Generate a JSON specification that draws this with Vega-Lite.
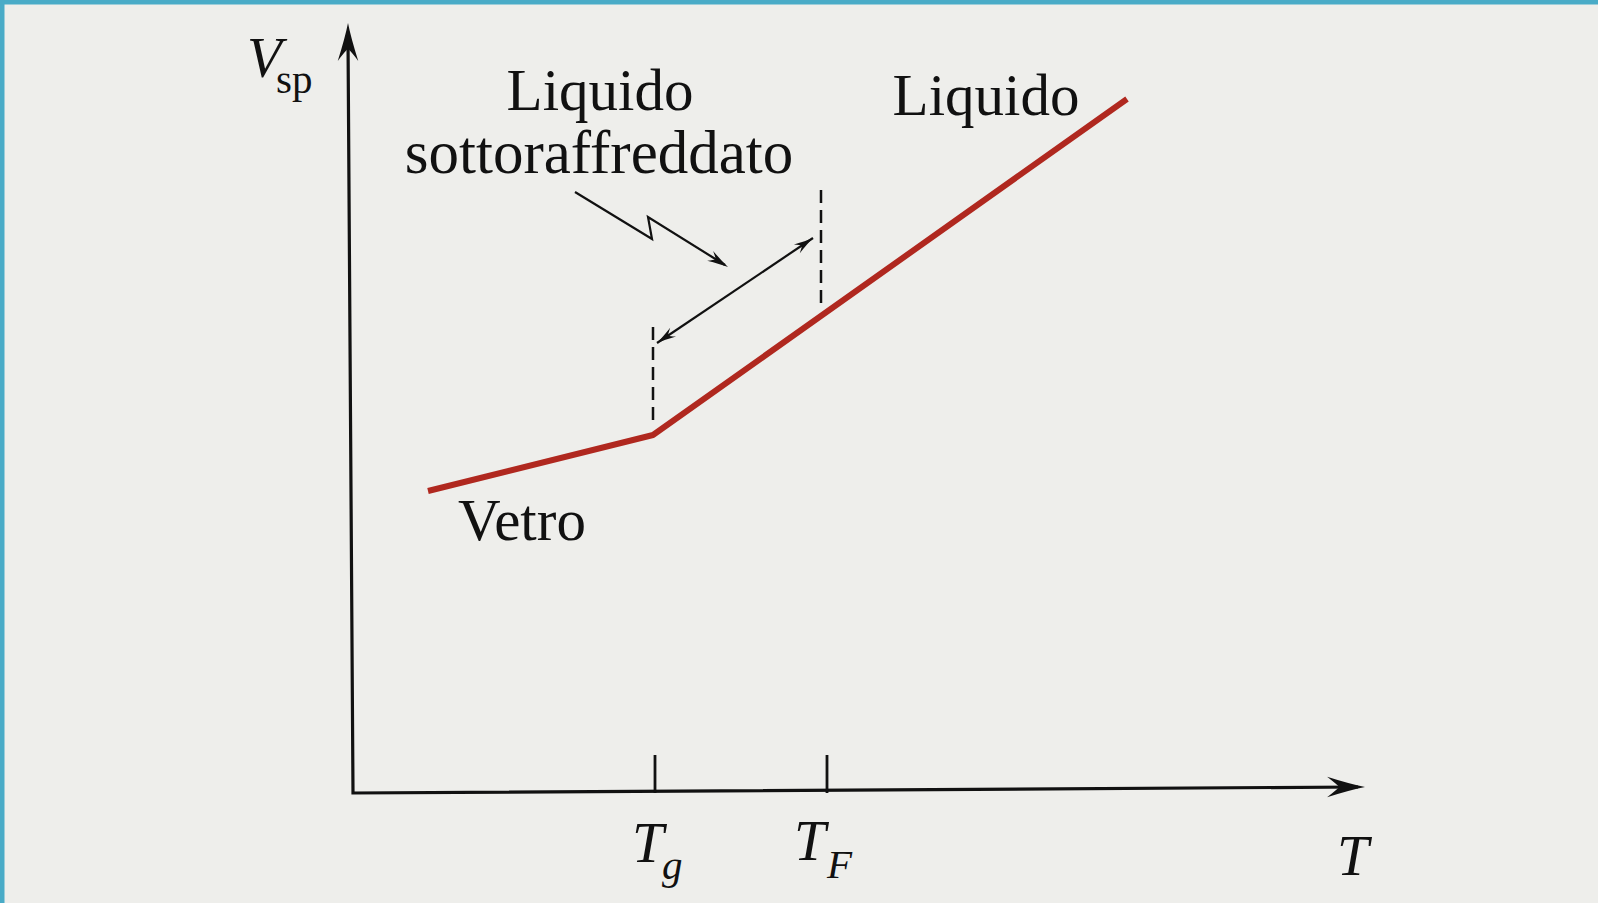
{
  "$schema": "https://vega.github.io/schema/vega-lite/v6.json",
  "width": 1598,
  "height": 903,
  "autosize": {"type": "none"},
  "padding": 0,
  "background": "#eeeeeb",
  "config": {"view": {"stroke": null, "fill": "#eeeeeb"}},
  "datasets": {
    "frame": [
      {"temp": -35.3, "vol": 79.3, "temp2": 124.5, "vol2": 79.3},
      {"temp": -35.3, "vol": 79.3, "temp2": -35.3, "vol2": -11}
    ],
    "axes": [
      {"o": 1, "temp": -0.5, "vol": 75.5},
      {"o": 2, "temp": 0, "vol": 0},
      {"o": 3, "temp": 100.5, "vol": 0.6}
    ],
    "heads": [
      {"dir": "up", "temp": -0.5, "vol": 77.0},
      {"dir": "right", "temp": 101.2, "vol": 0.6},
      {"dir": "lowerleft", "temp": 30.4, "vol": 45.0},
      {"dir": "upperright", "temp": 46.0, "vol": 55.5},
      {"dir": "zig", "temp": 37.5, "vol": 52.6}
    ],
    "curve": [
      {"o": 1, "temp": 7.5, "vol": 30.2},
      {"o": 2, "temp": 30.0, "vol": 35.8},
      {"o": 3, "temp": 77.4, "vol": 69.4}
    ],
    "dashes": [
      {"temp": 30.0, "vol": 37.3, "vol2": 47.1},
      {"temp": 46.8, "vol": 49.0, "vol2": 60.3}
    ],
    "ticks": [
      {"temp": 30.2, "vol": 0, "vol2": 3.8},
      {"temp": 47.4, "vol": 0, "vol2": 3.8}
    ],
    "pointers": [
      {"id": "range", "o": 1, "temp": 30.4, "vol": 45.0},
      {"id": "range", "o": 2, "temp": 46.0, "vol": 55.5},
      {"id": "zig", "o": 1, "temp": 22.2, "vol": 60.1},
      {"id": "zig", "o": 2, "temp": 29.9, "vol": 55.4},
      {"id": "zig", "o": 3, "temp": 29.5, "vol": 57.6},
      {"id": "zig", "o": 4, "temp": 37.2, "vol": 52.8}
    ],
    "labels": [
      {"kind": "word", "temp": 24.7, "vol": 68.3, "text": "Liquido"},
      {"kind": "wide", "temp": 24.6, "vol": 62.0, "text": "sottoraffreddato"},
      {"kind": "word", "temp": 63.3, "vol": 67.8, "text": "Liquido"},
      {"kind": "word", "temp": 16.9, "vol": 25.3, "text": "Vetro"},
      {"kind": "sym", "temp": -10.6, "vol": 71.6, "text": "V"},
      {"kind": "sym", "temp": 27.9, "vol": -6.9, "text": "T"},
      {"kind": "sym", "temp": 44.1, "vol": -6.7, "text": "T"},
      {"kind": "sym", "temp": 98.4, "vol": -8.2, "text": "T"},
      {"kind": "subroman", "temp": -7.7, "vol": 70.0, "text": "sp"},
      {"kind": "sub", "temp": 30.9, "vol": -8.6, "text": "g"},
      {"kind": "sub", "temp": 47.4, "vol": -8.5, "text": "F"}
    ]
  },
  "layer": [
    {
      "data": {"name": "frame"},
      "mark": {"type": "rule", "color": "#49abc7", "strokeWidth": 9},
      "encoding": {
        "x": {"field": "temp", "type": "quantitative", "scale": {"domain": [-35.3, 124.5], "nice": false, "zero": false}, "axis": null},
        "y": {"field": "vol", "type": "quantitative", "scale": {"domain": [-11, 79.3], "nice": false, "zero": false}, "axis": null},
        "x2": {"field": "temp2"},
        "y2": {"field": "vol2"}
      }
    },
    {
      "data": {"name": "curve"},
      "mark": {"type": "line", "color": "#b0281f", "strokeWidth": 6, "strokeJoin": "round", "strokeCap": "butt"},
      "encoding": {
        "x": {"field": "temp", "type": "quantitative", "axis": null},
        "y": {"field": "vol", "type": "quantitative", "axis": null},
        "order": {"field": "o"}
      }
    },
    {
      "data": {"name": "axes"},
      "mark": {"type": "line", "color": "#111111", "strokeWidth": 3.2, "strokeJoin": "miter"},
      "encoding": {
        "x": {"field": "temp", "type": "quantitative", "axis": null},
        "y": {"field": "vol", "type": "quantitative", "axis": null},
        "order": {"field": "o"}
      }
    },
    {
      "data": {"name": "dashes"},
      "mark": {"type": "rule", "color": "#111111", "strokeWidth": 2.5, "strokeDash": [13, 7]},
      "encoding": {
        "x": {"field": "temp", "type": "quantitative", "axis": null},
        "y": {"field": "vol", "type": "quantitative", "axis": null},
        "y2": {"field": "vol2"}
      }
    },
    {
      "data": {"name": "ticks"},
      "mark": {"type": "rule", "color": "#111111", "strokeWidth": 2.8},
      "encoding": {
        "x": {"field": "temp", "type": "quantitative", "axis": null},
        "y": {"field": "vol", "type": "quantitative", "axis": null},
        "y2": {"field": "vol2"}
      }
    },
    {
      "data": {"name": "pointers"},
      "mark": {"type": "line", "color": "#111111", "strokeWidth": 2.2, "strokeJoin": "miter"},
      "encoding": {
        "x": {"field": "temp", "type": "quantitative", "axis": null},
        "y": {"field": "vol", "type": "quantitative", "axis": null},
        "detail": {"field": "id"},
        "order": {"field": "o"}
      }
    },
    {
      "data": {"name": "heads"},
      "transform": [{"filter": "datum.dir === 'up'"}],
      "mark": {"type": "point", "shape": "M0,0 Q-1.5,-0.3 -3.7,-1 Q-2.8,-0.3 -2.5,0 Q-2.8,0.3 -3.7,1 Q-1.5,0.3 0,0 Z", "size": 420, "angle": -90, "filled": true, "color": "#111111", "opacity": 1},
      "encoding": {
        "x": {"field": "temp", "type": "quantitative", "axis": null},
        "y": {"field": "vol", "type": "quantitative", "axis": null}
      }
    },
    {
      "data": {"name": "heads"},
      "transform": [{"filter": "datum.dir === 'right'"}],
      "mark": {"type": "point", "shape": "M0,0 Q-1.5,-0.3 -3.7,-1 Q-2.8,-0.3 -2.5,0 Q-2.8,0.3 -3.7,1 Q-1.5,0.3 0,0 Z", "size": 420, "angle": 0, "filled": true, "color": "#111111", "opacity": 1},
      "encoding": {
        "x": {"field": "temp", "type": "quantitative", "axis": null},
        "y": {"field": "vol", "type": "quantitative", "axis": null}
      }
    },
    {
      "data": {"name": "heads"},
      "transform": [{"filter": "datum.dir === 'lowerleft'"}],
      "mark": {"type": "point", "shape": "M0,0 Q-1.5,-0.3 -3.7,-1 Q-2.8,-0.3 -2.5,0 Q-2.8,0.3 -3.7,1 Q-1.5,0.3 0,0 Z", "size": 110, "angle": 146.1, "filled": true, "color": "#111111", "opacity": 1},
      "encoding": {
        "x": {"field": "temp", "type": "quantitative", "axis": null},
        "y": {"field": "vol", "type": "quantitative", "axis": null}
      }
    },
    {
      "data": {"name": "heads"},
      "transform": [{"filter": "datum.dir === 'upperright'"}],
      "mark": {"type": "point", "shape": "M0,0 Q-1.5,-0.3 -3.7,-1 Q-2.8,-0.3 -2.5,0 Q-2.8,0.3 -3.7,1 Q-1.5,0.3 0,0 Z", "size": 110, "angle": -33.9, "filled": true, "color": "#111111", "opacity": 1},
      "encoding": {
        "x": {"field": "temp", "type": "quantitative", "axis": null},
        "y": {"field": "vol", "type": "quantitative", "axis": null}
      }
    },
    {
      "data": {"name": "heads"},
      "transform": [{"filter": "datum.dir === 'zig'"}],
      "mark": {"type": "point", "shape": "M0,0 Q-1.5,-0.3 -3.7,-1 Q-2.8,-0.3 -2.5,0 Q-2.8,0.3 -3.7,1 Q-1.5,0.3 0,0 Z", "size": 130, "angle": 32, "filled": true, "color": "#111111", "opacity": 1},
      "encoding": {
        "x": {"field": "temp", "type": "quantitative", "axis": null},
        "y": {"field": "vol", "type": "quantitative", "axis": null}
      }
    },
    {
      "data": {"name": "labels"},
      "transform": [{"filter": "datum.kind === 'word'"}],
      "mark": {"type": "text", "font": "Liberation Serif", "fontSize": 59, "align": "center", "baseline": "alphabetic", "color": "#111111"},
      "encoding": {
        "x": {"field": "temp", "type": "quantitative", "axis": null},
        "y": {"field": "vol", "type": "quantitative", "axis": null},
        "text": {"field": "text"}
      }
    },
    {
      "data": {"name": "labels"},
      "transform": [{"filter": "datum.kind === 'wide'"}],
      "mark": {"type": "text", "font": "Liberation Serif", "fontSize": 61, "align": "center", "baseline": "alphabetic", "color": "#111111"},
      "encoding": {
        "x": {"field": "temp", "type": "quantitative", "axis": null},
        "y": {"field": "vol", "type": "quantitative", "axis": null},
        "text": {"field": "text"}
      }
    },
    {
      "data": {"name": "labels"},
      "transform": [{"filter": "datum.kind === 'sym'"}],
      "mark": {"type": "text", "font": "Liberation Serif", "fontStyle": "italic", "fontSize": 57, "align": "left", "baseline": "alphabetic", "color": "#111111"},
      "encoding": {
        "x": {"field": "temp", "type": "quantitative", "axis": null},
        "y": {"field": "vol", "type": "quantitative", "axis": null},
        "text": {"field": "text"}
      }
    },
    {
      "data": {"name": "labels"},
      "transform": [{"filter": "datum.kind === 'subroman'"}],
      "mark": {"type": "text", "font": "Liberation Serif", "fontSize": 41, "align": "left", "baseline": "alphabetic", "color": "#111111"},
      "encoding": {
        "x": {"field": "temp", "type": "quantitative", "axis": null},
        "y": {"field": "vol", "type": "quantitative", "axis": null},
        "text": {"field": "text"}
      }
    },
    {
      "data": {"name": "labels"},
      "transform": [{"filter": "datum.kind === 'sub'"}],
      "mark": {"type": "text", "font": "Liberation Serif", "fontStyle": "italic", "fontSize": 41, "align": "left", "baseline": "alphabetic", "color": "#111111"},
      "encoding": {
        "x": {"field": "temp", "type": "quantitative", "axis": null},
        "y": {"field": "vol", "type": "quantitative", "axis": null},
        "text": {"field": "text"}
      }
    }
  ]
}
